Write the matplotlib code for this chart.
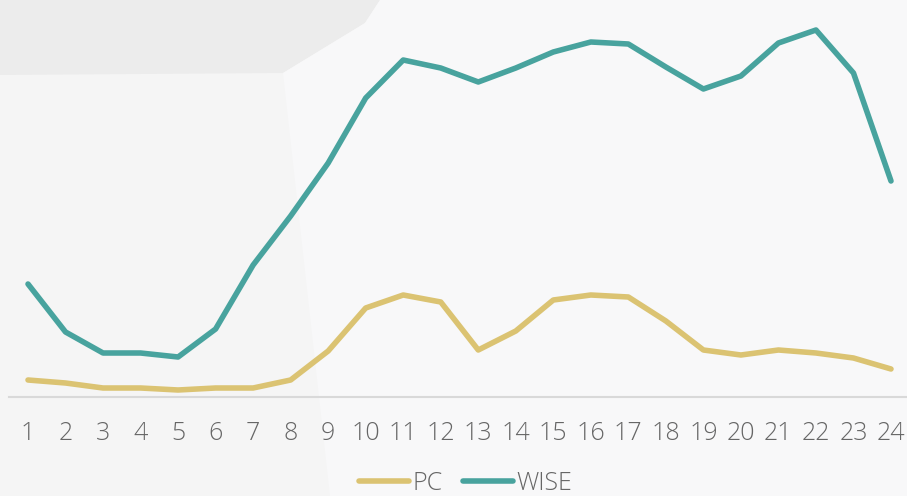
import matplotlib.pyplot as plt
from matplotlib.patches import Polygon

hours = list(range(1, 25))
wise = [113, 65, 44, 44, 40, 68, 132, 181, 234, 299, 337, 329,
        315, 329, 345, 355, 353, 330, 308, 321, 354, 367, 324, 216]
pc = [17, 14, 9, 9, 7, 9, 9, 17, 46, 89, 102, 95,
      47, 66, 97, 102, 100, 76, 47, 42, 47, 44, 39, 28]

W, H = 907, 496
fig = plt.figure(figsize=(W / 100, H / 100), dpi=100, facecolor='#f5f5f5')

# faint background shapes, in an axes of their own behind the chart
bg = fig.add_axes([0, 0, 1, 1], zorder=-1)
bg.set_xlim(0, W)
bg.set_ylim(H, 0)
bg.axis('off')
bg.add_patch(Polygon([(0, 0), (380, 0), (365, 23), (283, 73), (0, 75)],
                     facecolor='#ececec', edgecolor='none'))
bg.add_patch(Polygon([(380, 0), (W, 0), (W, H), (330, H), (283, 73), (365, 23)],
                     facecolor='#f8f8f9', edgecolor='none'))

ax = fig.add_axes([9 / W, 1 - 397 / H, (W - 9) / W, 397 / H])
ax.patch.set_alpha(0)

ax.plot(hours, pc, color='#dbc372', lw=4, solid_joinstyle='round', solid_capstyle='round', label='PC')
ax.plot(hours, wise, color='#48a39e', lw=4, solid_joinstyle='round', solid_capstyle='round', label='WISE')

ax.set_xlim(1 - 19 / 37.52, 24 + 16 / 37.52)
ax.set_ylim(0, 397)
ax.set_xticks(hours)
ax.set_xticklabels([str(h) for h in hours], fontsize=18, color='#666666', family='Open Sans', weight='light')
ax.tick_params(axis='x', length=0, pad=17)
ax.set_yticks([])
for s in ['top', 'left', 'right']:
    ax.spines[s].set_visible(False)
ax.spines['bottom'].set_color('#d9d9d9')
ax.spines['bottom'].set_linewidth(1.5)

leg = fig.legend(loc='lower center', bbox_to_anchor=(0.5 + 12 / W, -0.045), ncol=2, frameon=False,
                 prop={'family': 'Open Sans', 'size': 18, 'weight': 'light'}, handlelength=2.0,
                 handletextpad=0.15, columnspacing=0.8)
for t in leg.get_texts():
    t.set_color('#666666')

fig.savefig('out.png', dpi=100, facecolor=fig.get_facecolor())
